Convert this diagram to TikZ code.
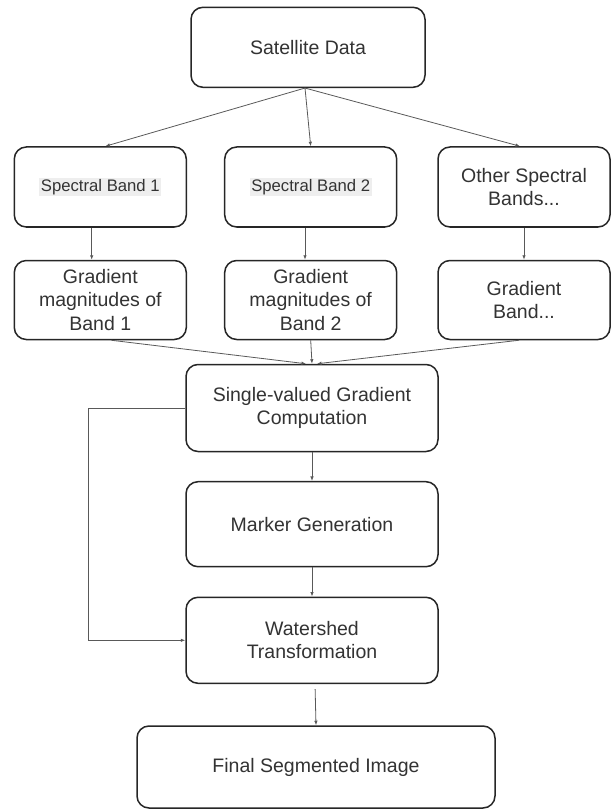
\documentclass[tikz,border=0pt]{standalone}
\usepackage{fontspec}
\setmainfont{Liberation Sans}
\usepackage{xcolor}
\usepackage{tikz}
\usetikzlibrary{arrows.meta}
\definecolor{textgrau}{HTML}{333333}
\definecolor{markgrau}{HTML}{EEEEEE}
\newcommand{\grossschrift}{\fontsize{19.5}{23.4}\selectfont}
\newcommand{\kleinschrift}{\fontsize{16.7}{20}\selectfont}
\newcommand{\markiert}[1]{{\setlength{\fboxsep}{1.5pt}\colorbox{markgrau}{\kleinschrift #1}}}
\tikzset{kasten/.style={draw=black!85, line width=1.5pt, rounded corners=12pt,
           fill=white, align=center, text=textgrau, font=\grossschrift, inner sep=2pt},
         pfeil/.style={draw=black!65, line width=0.8pt, -{Latex[length=4.5pt,width=3.5pt]}}}

\begin{document}
\begin{tikzpicture}[x=1pt,y=-1pt]
\useasboundingbox (0,0) rectangle (612,810);
% Die Kaesten:
\node[kasten, minimum width=234pt, minimum height=80pt] (sat) at (308,47.3) {Satellite Data};
\foreach \n/\x/\ntext/\gtext in {1/100.3/{\markiert{Spectral Band 1}}/{Gradient\\magnitudes of\\Band 1},
                                 2/310.7/{\markiert{Spectral Band 2}}/{Gradient\\magnitudes of\\Band 2},
                                 3/524/{Other Spectral\\Bands...}/{Gradient\\Band...}}
{
  \node[kasten, minimum width=172pt, minimum height=80pt] (band\n) at (\x,187) {\ntext};
  \node[kasten, minimum width=172pt, minimum height=79pt] (grad\n) at (\x,300) {\gtext};
}
\node[kasten, minimum width=252pt, minimum height=87pt] (single) at (312,408) {Single-valued Gradient\\Computation};
\node[kasten, minimum width=252pt, minimum height=85pt] (marker) at (312,524.2) {Marker Generation};
\node[kasten, minimum width=252pt, minimum height=86pt] (water) at (312,640.3) {Watershed\\Transformation};
\node[kasten, minimum width=358pt, minimum height=82pt] (final) at (316,767) {Final Segmented Image};
\coordinate (rueck) at (88,408);
% Die Pfeile:
\draw[pfeil] ([xshift=-3pt]sat.south) -- ([xshift=5pt]band1.north);
\draw[pfeil] ([xshift=-3pt]sat.south) -- (band2.north);
\draw[pfeil] ([xshift=-3pt]sat.south) -- ([xshift=-4pt]band3.north);
\draw[pfeil] ([xshift=-8.6pt]band1.south) -- ([xshift=-8.6pt]grad1.north);
\draw[pfeil] ([xshift=-5.7pt]band2.south) -- ([xshift=-5.7pt]grad2.north);
\draw[pfeil] (band3.south) -- (grad3.north);
\draw[pfeil] ([xshift=11pt]grad1.south) -- ([xshift=-6pt]single.north);
\draw[pfeil] (grad2.south) -- (single.north);
\draw[pfeil] ([xshift=-5pt]grad3.south) -- ([xshift=5pt]single.north);
\draw[pfeil] (single.south) -- (marker.north);
\draw[pfeil] (marker.south) -- (water.north);
\draw[pfeil] (single.west) -- (rueck) |- (water.west);
\draw[pfeil, shorten <=5pt] ([xshift=3pt]water.south) -- (final.north);
\end{tikzpicture}
\end{document}
